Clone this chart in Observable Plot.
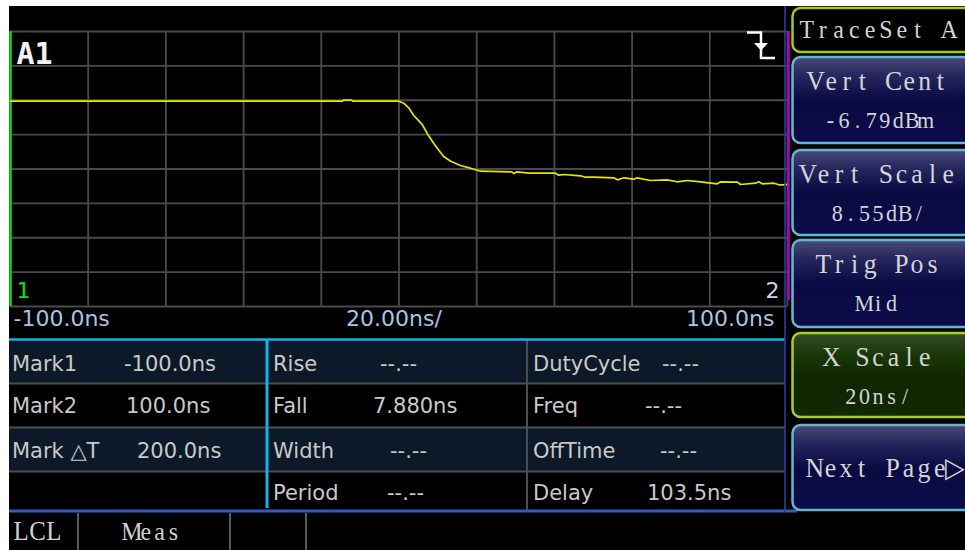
<!DOCTYPE html>
<html><head><meta charset="utf-8">
<script src="https://cdn.jsdelivr.net/npm/d3@7"></script>
<script src="https://cdn.jsdelivr.net/npm/@observablehq/plot@0.6"></script>
<style>
body{margin:0;background:#fff;}
#root{position:relative;width:965px;height:550px;overflow:hidden;background:#fff;}
#screen{position:absolute;left:9px;top:6px;width:956px;height:544px;background:#000;}
#plot{position:absolute;left:9px;top:6px;}
#ui{position:absolute;left:0;top:0;}
</style></head>
<body>
<div id="root"><div id="screen"></div><div id="plot"></div></div>
<script>
// ---- data ----
const timeNs   = [-100, -14.6, -14.3, -12.2, -11.9, 0.0, 1.2, 2.5, 3.8, 5.0, 6.0, 7.3, 9.0, 10.3, 11.5, 13.3, 15.8, 18.4, 21.0, 29.0, 29.6, 30.4, 33.4, 40.3, 41.1, 42.4, 46.7, 48.0, 50.1, 55.3, 56.2, 57.9, 60.4, 61.3, 64.7, 69.0, 71.6, 74.2, 77.6, 81.9, 82.8, 87.1, 87.9, 91.8, 92.6, 93.5, 96.5, 97.8, 99.0, 100];
const levelDbm = [10.07, 10.07, 10.32, 10.32, 10.07, 10.07, 9.58, 8.43, 6.52, 5.30, 4.25, 1.97, -0.52, -2.20, -3.68, -4.85, -5.92, -6.59, -7.34, -7.49, -7.91, -7.49, -7.83, -7.83, -8.33, -8.16, -8.48, -8.83, -8.83, -8.98, -9.48, -8.98, -9.33, -8.98, -9.65, -9.48, -9.97, -9.65, -9.97, -10.47, -9.97, -10.05, -10.65, -10.32, -9.97, -10.47, -10.32, -10.72, -10.72, -10.60];
const xGridNs = [-100, -80, -60, -40, -20, 0, 20, 40, 60, 80, 100];
const vertCenterDbm = -6.79;
const vertScaleDb = 8.55;
const vertDivisions = 8;
const channelLabel = "A1";
const markerLabels = ["1", "2"];
const xLabels = ["-100.0ns", "20.00ns/", "100.0ns"];
const markNames  = ["Mark1", "Mark2", "Mark △T", ""];
const markValues = ["-100.0ns", "100.0ns", "200.0ns", ""];
const meas1Names  = ["Rise", "Fall", "Width", "Period"];
const meas1Values = ["--.--", "7.880ns", "--.--", "--.--"];
const meas2Names  = ["DutyCycle", "Freq", "OffTime", "Delay"];
const meas2Values = ["--.--", "--.--", "--.--", "103.5ns"];
const buttonLine1 = ["TraceSet A", "Vert Cent", "Vert Scale", "Trig Pos", "X Scale", "Next Page▷"];
const buttonLine2 = ["", "-6.79dBm", "8.55dB/", "Mid", "20ns/", ""];
const tabLabels = ["LCL", "Meas"];

// ---- chart ----
const trace = timeNs.map((t, i) => ({t, v: levelDbm[i]}));
const half = vertScaleDb * vertDivisions / 2;
const yGrid = d3.range(vertDivisions + 1).map(i => vertCenterDbm - half + i * vertScaleDb);
const gridColor = "#4a4a4a";
const labelColor = "#a6c4e4";

const chart = Plot.plot({
  width: 778, height: 332,
  marginLeft: 1, marginRight: 0, marginTop: 25, marginBottom: 32,
  style: {background: "transparent", overflow: "visible"},
  x: {domain: [-100, 100], axis: null},
  y: {domain: [vertCenterDbm - half, vertCenterDbm + half], axis: null},
  marks: [
    Plot.ruleX(xGridNs, {stroke: gridColor, strokeWidth: 1.8}),
    Plot.ruleY(yGrid, {stroke: gridColor, strokeWidth: 1.8}),
    Plot.ruleX([xGridNs[0]], {stroke: "#12d012", strokeWidth: 2.5}),
    Plot.line(trace, {x: "t", y: "v", stroke: "#e6e600", strokeWidth: 1.7}),
    Plot.text([channelLabel], {frameAnchor: "top-left", lineAnchor: "top", dx: 6, dy: 11, fill: "#f2f2f2",
      fontFamily: "DejaVu Sans Mono", fontWeight: "bold", fontSize: 30}),
    Plot.text([markerLabels[0]], {frameAnchor: "bottom-left", textAnchor: "start", dx: 6, dy: -9,
      fill: "#10e010", fontFamily: "DejaVu Sans", fontSize: 22}),
    Plot.text([markerLabels[1]], {frameAnchor: "bottom-right", textAnchor: "end", dx: -8, dy: -9,
      fill: "#c4d8ee", fontFamily: "DejaVu Sans", fontSize: 22}),
    Plot.text([xLabels[0]], {frameAnchor: "bottom-left", textAnchor: "start", dx: 3, dy: 19,
      fill: labelColor, fontFamily: "DejaVu Sans", fontSize: 22}),
    Plot.text([xLabels[1]], {frameAnchor: "bottom", textAnchor: "middle", dx: -5, dy: 19,
      fill: labelColor, fontFamily: "DejaVu Sans", fontSize: 22}),
    Plot.text([xLabels[2]], {frameAnchor: "bottom-right", textAnchor: "end", dx: -13, dy: 19,
      fill: labelColor, fontFamily: "DejaVu Sans", fontSize: 22})
  ]
});
document.getElementById("plot").appendChild(chart);

// ---- instrument UI chrome (layout) ----
const esc = c => c === "&" ? "&amp;" : c === "<" ? "&lt;" : c === ">" ? "&gt;" : c;
function monoSerif(str, x, y, pitch, size, anchor, fill = "#d4d4d4", sx = 0.92) {
  const chars = [...str];
  const start = anchor === "middle" ? x - chars.length * pitch / 2 : x;
  const xs = chars.map((c, i) => ((start + (i + 0.5) * pitch) / sx).toFixed(2));
  return `<text transform="scale(${sx},1)" x="${xs.join(" ")}" y="${y}" text-anchor="middle" font-family="Liberation Serif, serif" font-size="${size}" fill="${fill}" xml:space="preserve">${chars.map(esc).join("")}</text>`;
}
const rowTops = [340, 383, 427, 471];
const rowBase = [371, 413, 458, 500];
const markValX = [125, 127, 138, 0];
const meas1ValX = [380, 373, 390, 387];
const meas2ValX = [662, 645, 660, 647];
const btnBoxes = [[8, 44], [57, 86], [150, 85], [240, 87], [333, 84], [425, 85]];
const btnFill = ["#000", "url(#navy)", "url(#navy)", "url(#navy)", "url(#green)", "url(#navy)"];
const btnStroke = ["#a8c81c", "#62b8d4", "#62b8d4", "#62b8d4", "#a8d020", "#62b8d4"];
const sans = 'font-family="DejaVu Sans, sans-serif"';
const txtCol = "#c9c9c9";
let s = `<svg id="ui" width="965" height="550" xmlns="http://www.w3.org/2000/svg">
<defs>
<linearGradient id="navy" x1="0" y1="0" x2="0" y2="1">
<stop offset="0" stop-color="#4c4b76"/><stop offset="0.2" stop-color="#272860"/>
<stop offset="0.5" stop-color="#0a0a42"/><stop offset="1" stop-color="#0b0b4a"/></linearGradient>
<linearGradient id="green" x1="0" y1="0" x2="0" y2="1">
<stop offset="0" stop-color="#344e26"/><stop offset="0.25" stop-color="#1a3808"/>
<stop offset="0.55" stop-color="#0f2600"/><stop offset="1" stop-color="#112a02"/></linearGradient>
</defs>`;
// table rows
rowTops.forEach((t, i) => {
  const b = i < 3 ? rowTops[i + 1] : 510;
  if (i % 2 === 0) s += `<rect x="9" y="${t}" width="776" height="${b - t}" fill="#0b1928"/>`;
  if (i > 0) s += `<line x1="9" x2="785" y1="${t + 0.5}" y2="${t + 0.5}" stroke="#4e4e4e" stroke-width="2"/>`;
  s += `<text x="12" y="${rowBase[i]}" ${sans} font-size="21" fill="${txtCol}">${markNames[i]}</text>`;
  if (markValues[i]) s += `<text x="${markValX[i] - 1}" y="${rowBase[i]}" ${sans} font-size="21" fill="${txtCol}">${markValues[i]}</text>`;
  s += `<text x="273" y="${rowBase[i]}" ${sans} font-size="21" fill="${txtCol}">${meas1Names[i]}</text>`;
  s += `<text x="${meas1ValX[i]}" y="${rowBase[i]}" ${sans} font-size="21" fill="${txtCol}">${meas1Values[i]}</text>`;
  s += `<text x="533" y="${rowBase[i]}" ${sans} font-size="21" fill="${txtCol}">${meas2Names[i]}</text>`;
  s += `<text x="${meas2ValX[i]}" y="${rowBase[i]}" ${sans} font-size="21" fill="${txtCol}">${meas2Values[i]}</text>`;
});
s += `<line x1="527" x2="527" y1="340" y2="510" stroke="#4e4e4e" stroke-width="2"/>`;
s += `<line x1="9" x2="785" y1="339.5" y2="339.5" stroke="#16b2e8" stroke-width="2.5"/>`;
s += `<line x1="267" x2="267" y1="340" y2="508" stroke="#16b2e8" stroke-width="3"/>`;
s += `<line x1="9" x2="797" y1="511" y2="511" stroke="#2c5cc8" stroke-width="3"/>`;
// side lines
s += `<line x1="785" x2="785" y1="6" y2="512" stroke="#2a3f9c" stroke-width="1.6"/>`;
s += `<line x1="788.5" x2="788.5" y1="31" y2="300" stroke="#b000c4" stroke-width="2.6"/>`;
// trigger icon
s += `<path d="M747,32.5H761V58H775" fill="none" stroke="#fff" stroke-width="2.5"/>`;
s += `<polygon points="754,43 768,43 761,50.5" fill="#fff"/>`;
// buttons
btnBoxes.forEach(([t, h], i) => {
  s += `<rect x="792.5" y="${t}" width="190" height="${h}" rx="8" fill="${btnFill[i]}" stroke="${btnStroke[i]}" stroke-width="2.5"/>`;
  if (i === 0) s += monoSerif(buttonLine1[i], 878, 38, 15.8, 26, "middle");
  else if (i === 5) s += monoSerif(buttonLine1[i], 807, t + 52, 15.6, 28, "start");
  else {
    s += monoSerif(buttonLine1[i], 878, t + 33, 15.6, 28, "middle");
    s += monoSerif(buttonLine2[i], 878, t + 71, 13.6, 24, "middle");
  }
});
// bottom tab bar
[78, 230, 306].forEach(x => s += `<line x1="${x}" x2="${x}" y1="513" y2="550" stroke="#5a5a5a" stroke-width="2"/>`);
s += monoSerif(tabLabels[0], 13, 540, 16.3, 27, "start", "#d0d0d0");
s += monoSerif(tabLabels[1], 125, 540, 13.8, 26, "start", "#d0d0d0");
s += `</svg>`;
document.getElementById("root").insertAdjacentHTML("beforeend", s);
</script>
</body></html>
